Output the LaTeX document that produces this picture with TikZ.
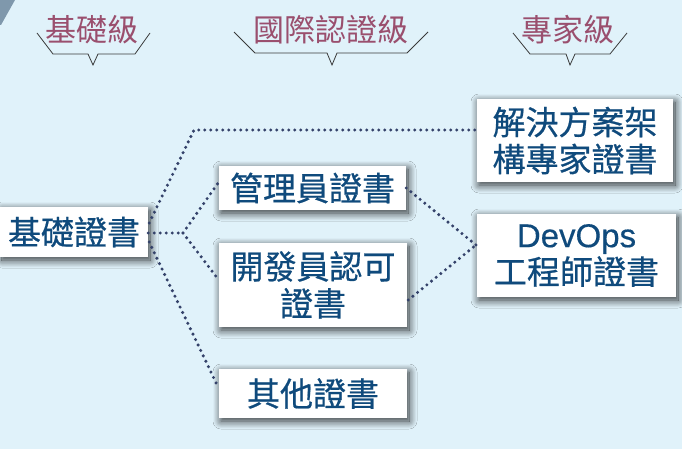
\documentclass[tikz,border=0pt]{standalone}
\usepackage{fontspec}
\newfontfamily\cjk[FakeBold=0.6]{Noto Sans CJK TC}
\newfontfamily\cjkhead{Noto Sans CJK TC}
\newfontfamily\latin[FakeBold=0.4]{Liberation Sans}
\usetikzlibrary{shadows.blur,calc}
\definecolor{bgblue}{HTML}{E0F2FA}
\definecolor{boxtext}{HTML}{0F4A7C}
\definecolor{mauve}{HTML}{9A4F6E}
\definecolor{dotcol}{HTML}{34426A}
\definecolor{corner}{HTML}{7F98AC}
\definecolor{bracecol}{HTML}{3A3A3A}
\tikzset{
  certbox/.style={fill=white, inner sep=0pt, align=center, text=boxtext,
    font=\cjk\fontsize{33}{37}\selectfont,
    blur shadow={shadow xshift=2pt, shadow yshift=-3pt, shadow blur radius=8pt,
      shadow blur steps=14, shadow opacity=80}},
  levellabel/.style={inner sep=0pt, text=mauve, font=\cjkhead\fontsize{31}{34}\selectfont},
  link/.style={draw=dotcol, line width=3.4pt, line cap=round, dash pattern=on 0pt off 6pt},
  bracket/.style={draw=bracecol, line width=0.8pt, line join=miter}
}
\begin{document}
\begin{tikzpicture}[x=1pt,y=-1pt]
\fill[bgblue] (0,0) rectangle (682,449);
\useasboundingbox (0,0) rectangle (682,449);
\fill[corner] (0,0) -- (15,0) -- (1,25) -- (0,25) -- cycle;

% level headers
\node[levellabel] (lv1) at (92,30) {基礎級};
\node[levellabel] (lv2) at (331,30) {國際認證級};
\node[levellabel] (lv3) at (568,30) {專家級};
\draw[bracket] (37,33) -- (53,54) -- (88,54) -- (93,65) -- (98,54) -- (135,54) -- (150,33);
\draw[bracket] (234,32) -- (255,53) -- (327,53) -- (332,65) -- (337,53) -- (407,53) -- (428,32);
\draw[bracket] (513,33) -- (530,54) -- (566,54) -- (570,65) -- (575,54) -- (610,54) -- (627,33);

% boxes
\node[certbox, minimum width=148pt, minimum height=50pt] (base) at (74,232) {基礎證書};
\node[certbox, minimum width=187pt, minimum height=44pt] (mgr) at (312.5,188) {管理員證書};
\node[certbox, minimum width=188pt, minimum height=84pt] (dev) at (313,285) {開發員認可\\證書};
\node[certbox, minimum width=188pt, minimum height=49pt] (other) at (313,393.5) {其他證書};
\node[certbox, minimum width=196pt, minimum height=83pt] (arch) at (575,140.5) {解決方案架\\構專家證書};
\node[certbox, minimum width=199pt, minimum height=83pt] (devops) at (576.5,255.5) {{\latin DevOps}\\工程師證書};

% junctions
\coordinate (j1) at (183,233);
\coordinate (j2) at (194,130);
\coordinate (j3) at (476,245);

% connectors
\draw[link] (base.east |- j1) -- (j1);
\draw[link] (j1) -- ($(mgr.west)+(0,-6)$);
\draw[link] (j1) -- ($(dev.west)+(0,-5)$);
\draw[link] ($(base.east)+(1,-9)$) -- (j2) -- (arch.west |- j2);
\draw[link] ($(base.east)+(1,10)$) -- ($(other.west)+(-1,-7)$);
\draw[link] (mgr.east) -- (j3);
\draw[link] ($(dev.east)+(1,15)$) -- (j3);
\end{tikzpicture}
\end{document}
